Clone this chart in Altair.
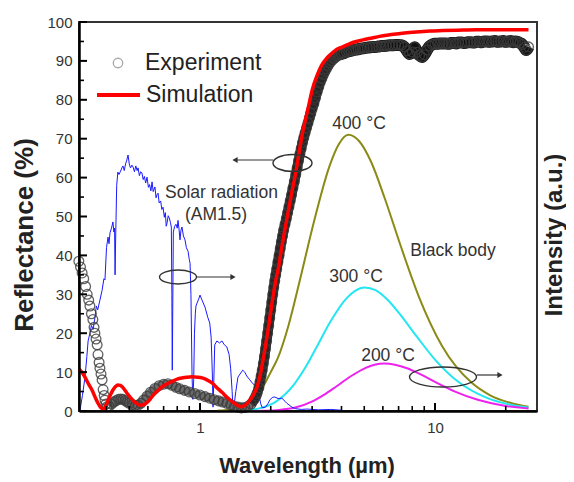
import altair as alt
import pandas as pd

# ---------------- data ----------------
# Experiment (open circles), reflectance in %
exp_uv_wl = [0.305, 0.310, 0.315, 0.320, 0.326, 0.331, 0.336, 0.340, 0.345, 0.350,
             0.354, 0.357, 0.361, 0.365, 0.368, 0.372, 0.375, 0.379, 0.383, 0.387,
             0.391, 0.394, 0.398, 0.402]
exp_uv_r = [38.5, 37, 35.5, 34, 32, 30, 28.5, 27, 25, 23.5,
            21.5, 20, 18.5, 17, 14.5, 12.5, 11, 9.5, 8, 5.5,
            4, 2.8, 1.8, 1.1]

exp_vis_wl = [0.410, 0.420, 0.430, 0.440, 0.450, 0.460, 0.470, 0.480, 0.490, 0.500,
              0.515, 0.530, 0.545, 0.560, 0.575, 0.595, 0.615, 0.643, 0.670, 0.700,
              0.730, 0.760, 0.790, 0.820, 0.860, 0.900, 0.950, 1.00, 1.05, 1.10,
              1.15, 1.20, 1.25, 1.30, 1.35, 1.40, 1.45, 1.50, 1.55, 1.60, 1.65]
exp_vis_r = [1.2, 1.8, 2.3, 2.7, 3.0, 3.1, 3.0, 2.7, 2.3, 2.0,
             1.6, 1.4, 1.5, 2.0, 2.8, 3.8, 4.8, 5.8, 6.5, 6.9,
             7.0, 6.6, 6.1, 5.7, 5.3, 4.9, 4.5, 4.1, 3.7, 3.3,
             2.9, 2.6, 2.3, 2.0, 1.6, 1.2, 1.0, 0.8, 0.9, 1.2, 1.8]

exp_edge_wl = [1.70, 1.73, 1.75, 1.78, 1.80, 1.82, 1.84, 1.86, 1.88, 1.90,
               1.92, 1.94, 1.96, 1.98, 2.00, 2.02, 2.04, 2.06, 2.08, 2.10,
               2.12, 2.145, 2.17, 2.195, 2.22, 2.245, 2.27, 2.30, 2.33, 2.36,
               2.39, 2.42, 2.45, 2.485, 2.52, 2.555, 2.59, 2.625, 2.66, 2.695,
               2.73, 2.765, 2.80, 2.84, 2.88, 2.92, 2.96, 3.00, 3.05, 3.10,
               3.15, 3.20, 3.25, 3.30, 3.35, 3.40, 3.45, 3.51, 3.57, 3.63,
               3.70, 3.77, 3.85, 3.92]
exp_edge_r = [3.0, 3.8, 4.6, 6.0, 7.5, 9.0, 10.5, 12.2, 14, 16,
              18, 20, 22, 24, 26, 28, 30, 31.8, 33.5, 35,
              36.5, 38.3, 40, 41.8, 43.5, 45, 46.5, 48, 49.5, 51,
              52.5, 54, 55.5, 57.3, 59, 60.8, 62.5, 64.3, 66, 67.5,
              69, 70.3, 71.5, 72.8, 74, 75.3, 76.5, 77.7, 79, 80.5,
              82, 83.3, 84.5, 85.5, 86.5, 87.3, 88, 88.8, 89.5, 90,
              90.5, 90.9, 91.3, 91.6]

exp_ir_wl = [4.0, 4.1, 4.2, 4.3, 4.4, 4.5, 4.6, 4.7, 4.8, 4.9,
             5.0, 5.15, 5.3, 5.45, 5.6, 5.75, 5.9, 6.05, 6.2, 6.4,
             6.6, 6.8, 7.0, 7.2, 7.4, 7.6, 7.8, 8.0, 8.2, 8.4,
             8.6, 8.8, 9.0, 9.25, 9.5, 9.75, 10.0, 10.25, 10.5, 10.8,
             11.1, 11.4, 11.7, 12.0, 12.3, 12.6, 13.0, 13.4, 13.8, 14.2,
             14.6, 15.0, 15.4, 15.8, 16.2, 16.6, 17.0, 17.5, 18.0, 18.5,
             19.0, 19.5, 20.0, 20.5, 21.0, 21.5, 22.0, 22.5, 23.0, 23.5,
             24.0, 24.5, 25.0]
exp_ir_r = [91.8, 92.0, 92.3, 92.5, 92.6, 92.8, 92.9, 93.0, 93.1, 93.2,
            93.3, 93.4, 93.5, 93.6, 93.6, 93.7, 93.8, 93.8, 93.9, 94.0,
            94.0, 94.1, 94.1, 94.0, 93.6, 92.6, 91.8, 92.3, 93.5, 92.2,
            91.4, 91.0, 91.6, 92.8, 93.8, 94.2, 94.4, 94.4, 94.5, 94.5,
            94.5, 94.4, 94.6, 94.6, 94.5, 94.7, 94.7, 94.6, 94.8, 94.8,
            94.7, 94.9, 94.9, 94.8, 95.0, 95.0, 94.9, 95.0, 95.1, 94.9,
            95.0, 95.1, 94.9, 95.0, 95.1, 94.8, 95.0, 94.9, 94.6, 94.2,
            93.5, 92.8, 93.6]

# Simulation (red line)
sim_wl = [0.305, 0.309, 0.316, 0.324, 0.335, 0.347, 0.357, 0.368, 0.378, 0.387,
          0.396, 0.406, 0.416, 0.426, 0.437, 0.447, 0.458, 0.470, 0.490, 0.514,
          0.535, 0.556, 0.575, 0.595, 0.613, 0.631, 0.660, 0.689, 0.725, 0.760,
          0.800, 0.838, 0.880, 0.925, 0.970, 1.02, 1.07, 1.125, 1.18, 1.24,
          1.30, 1.37, 1.44, 1.50, 1.55, 1.60, 1.65, 1.70, 1.75, 1.80,
          1.85, 1.90, 1.95, 2.00, 2.05, 2.10, 2.16, 2.22, 2.28, 2.34,
          2.40, 2.47, 2.54, 2.60, 2.66, 2.72, 2.80, 2.90, 3.00, 3.15,
          3.30, 3.45, 3.57, 3.80, 4.00, 4.22, 4.50, 4.94, 5.40, 5.80,
          6.40, 7.00, 7.80, 8.60, 9.50, 10.8, 12.5, 15.0, 20.0, 25.0]
sim_r = [10.8, 10.5, 9.8, 8.7, 7.0, 5.4, 3.7, 2.0, 0.9, 0.5,
         1.2, 2.8, 4.2, 5.4, 6.3, 6.7, 6.6, 6.0, 4.5, 3.0,
         2.0, 1.5, 1.6, 2.2, 3.0, 4.0, 5.2, 6.2, 7.0, 7.6,
         8.2, 8.5, 8.7, 8.8, 8.7, 8.5, 8.0, 7.2, 6.0, 4.8,
         3.6, 2.4, 1.5, 1.1, 1.4, 2.2, 3.2, 4.5, 6.2, 9.0,
         12.8, 16.8, 21.0, 25.5, 29.8, 33.5, 37.0, 41.5, 45.5, 49.3,
         52.8, 56.8, 60.5, 64.0, 67.5, 71.0, 74.5, 78.5, 82.5, 86.3,
         89.0, 90.6, 91.5, 92.9, 93.5, 94.1, 94.8, 95.4, 95.9, 96.3,
         96.7, 97.0, 97.3, 97.5, 97.7, 97.8, 97.9, 98.0, 98.0, 98.0]

# Solar radiation AM1.5 (blue, arbitrary units on the same 0-100 frame)
sun_wl = [0.305, 0.309, 0.316, 0.324, 0.330, 0.334, 0.340, 0.345, 0.351, 0.357,
          0.362, 0.367, 0.375, 0.383, 0.390, 0.394, 0.400, 0.406, 0.410, 0.414,
          0.420, 0.426, 0.430, 0.433, 0.435, 0.438, 0.442, 0.447, 0.452, 0.458,
          0.465, 0.470, 0.476, 0.482, 0.488, 0.494, 0.500, 0.506, 0.513, 0.519,
          0.526, 0.533, 0.540, 0.545, 0.552, 0.559, 0.566, 0.573, 0.580, 0.587,
          0.595, 0.603, 0.610, 0.618, 0.625, 0.632, 0.643, 0.650, 0.656, 0.663,
          0.670, 0.680, 0.688, 0.696, 0.705, 0.712, 0.718, 0.724, 0.732, 0.740,
          0.748, 0.755, 0.759, 0.762, 0.766, 0.770, 0.780, 0.790, 0.800, 0.806,
          0.815, 0.822, 0.830, 0.838, 0.850, 0.863, 0.875, 0.890, 0.900, 0.907,
          0.915, 0.925, 0.932, 0.940, 0.947, 0.955, 0.961, 0.975, 0.990, 1.000,
          1.02, 1.05, 1.08, 1.10, 1.115, 1.128, 1.136, 1.145, 1.155, 1.18,
          1.21, 1.24, 1.27, 1.30, 1.33, 1.35, 1.37, 1.38, 1.40, 1.42,
          1.45, 1.48, 1.52, 1.55, 1.58, 1.63, 1.68, 1.75, 1.78, 1.81,
          1.84, 1.90, 1.95, 1.98, 2.03, 2.08, 2.15, 2.23, 2.30, 2.34,
          2.40, 2.46, 2.55, 2.70, 2.85, 3.20, 3.60, 4.00]
sun_i = [0, 0.5, 4, 8.7, 14, 18, 20, 22, 21, 24,
         27, 26, 28.5, 31, 34, 33.7, 42, 44.7, 43, 45.8,
         47, 48.6, 46, 47, 35, 46, 58, 61.4, 60.8, 61.5,
         62.5, 63, 61.8, 63.5, 64.5, 65.8, 63.5, 62.5, 63.2, 62.7,
         61.5, 63, 61.8, 62.5, 60.5, 61.5, 61.2, 59.5, 60.3, 58.6,
         60.1, 57.5, 58.2, 56.6, 58.9, 56.4, 57.6, 54.8, 55.6, 56,
         53.5, 54, 51.8, 52.4, 49.8, 51, 47.5, 48.3, 50.2, 49.6,
         48.5, 47.3, 30, 10.5, 28, 46, 47.5, 48, 47, 49,
         46.5, 44, 46.5, 47.3, 45, 44, 42, 41, 39, 38,
         30, 9, 3, 8, 20, 25, 27, 28, 29, 29.8,
         28.5, 26.7, 24, 22.6, 19, 10, 1, 8, 17, 18,
         17.5, 18, 17, 16.5, 14.5, 11, 5, 1, 2, 5,
         8.7, 9.5, 10.5, 10, 9, 8, 7, 6.2, 4.5, 2,
         0.8, 1, 2, 2.8, 3.5, 3.6, 3.2, 3.3, 2.5, 2,
         1.5, 1, 0.6, 0.4, 0.5, 0.3, 0.4, 0.2]

# Black body curves (arbitrary units)
bb400_wl = [1.19, 1.34, 1.53, 1.78, 2.00, 2.14, 2.38, 2.67, 3.05, 3.56, 3.89,
            4.28, 4.75, 5.35, 6.11, 7.13, 8.55, 10.7, 14.3, 17.1, 21.4, 25.0]
bb400_i = [0.1, 0.4, 1.4, 4.5, 10, 13.5, 22, 34, 48.5, 63, 68.5,
           71.0, 69.4, 64.0, 54.7, 42.6, 29.3, 16.8, 7.3, 4.1, 1.95, 1.1]
bb300_wl = [1.40, 1.57, 1.79, 2.09, 2.51, 2.79, 3.14, 3.59, 4.19, 4.57,
            5.02, 5.58, 6.28, 7.17, 8.37, 10.04, 12.56, 16.74, 20.09, 25.0]
bb300_i = [0.05, 0.18, 0.67, 2.3, 6.8, 10.9, 16.5, 23.0, 28.9, 30.9,
           31.75, 31.05, 28.6, 24.5, 19.1, 13.1, 7.5, 3.3, 1.84, 0.87]
bb200_wl = [1.69, 1.90, 2.17, 2.54, 3.04, 3.38, 3.80, 4.35, 5.07, 5.53,
            6.08, 6.76, 7.61, 8.69, 10.14, 12.17, 15.21, 20.28, 25.0]
bb200_i = [0.02, 0.07, 0.26, 0.88, 2.6, 4.2, 6.3, 8.8, 11.1, 11.9,
           12.2, 11.9, 11.0, 9.4, 7.3, 5.0, 2.9, 1.25, 0.65]

# Axis ticks
x_major = [1, 10]
x_minor = [0.4, 0.5, 0.6, 0.7, 0.8, 0.9, 2, 3, 4, 5, 6, 7, 8, 9, 20]
y_major = [0, 10, 20, 30, 40, 50, 60, 70, 80, 90, 100]
y_minor = [5, 15, 25, 35, 45, 55, 65, 75, 85, 95]

# ---------------- layout ----------------
W, H = 458, 389
X0, Y0 = 79, 22          # page position of the plot's top-left corner
FONT = "Liberation Sans, Arial, Helvetica, sans-serif"
TXT = "#333333"

xs = alt.Scale(type="log", domain=[0.3055, 27.17], nice=False)
ys = alt.Scale(domain=[0, 100], nice=False, zero=False)

x_axis = alt.Axis(values=x_major, format="~g", title=None, ticks=False, grid=False,
                  labelFont=FONT, labelFontSize=15, labelColor=TXT, labelPadding=9,
                  labelFlush=False, domainColor="black", domainWidth=2.5, zindex=1)
y_axis = alt.Axis(values=y_major, title=None, ticks=False, grid=False,
                  labelFont=FONT, labelFontSize=15, labelColor=TXT, labelPadding=7,
                  labelFlush=False, domainColor="black", domainWidth=2.5, zindex=1)

exp_df = pd.DataFrame({
    "wl": exp_uv_wl + exp_vis_wl + exp_edge_wl + exp_ir_wl,
    "r": exp_uv_r + exp_vis_r + exp_edge_r + exp_ir_r,
})
sim_df = pd.DataFrame({"wl": sim_wl, "r": sim_r})
sun_df = pd.DataFrame({"wl": sun_wl, "r": sun_i})


def xenc(field="wl"):
    return alt.X(f"{field}:Q", scale=xs, axis=x_axis)


def yenc(field="r"):
    return alt.Y(f"{field}:Q", scale=ys, axis=y_axis)


layers = []

# black body curves
for wl, iv, col in [(bb400_wl, bb400_i, "#8a8a16"),
                    (bb300_wl, bb300_i, "#22e6f0"),
                    (bb200_wl, bb200_i, "#ee22ee")]:
    layers.append(
        alt.Chart(pd.DataFrame({"wl": wl, "r": iv}))
        .mark_line(color=col, strokeWidth=2, interpolate="monotone")
        .encode(x=xenc(), y=yenc())
    )

# solar spectrum
layers.append(
    alt.Chart(sun_df).mark_line(color="#1a1aff", strokeWidth=1)
    .encode(x=xenc(), y=yenc())
)

# experiment: dense band underlay + open circles
layers.append(
    alt.Chart(exp_df).transform_filter((alt.datum.wl >= 0.405) & (alt.datum.wl <= 1.7))
    .mark_line(color="#6a6a6a", strokeWidth=8, interpolate="monotone")
    .encode(x=xenc(), y=yenc())
)
layers.append(
    alt.Chart(exp_df).transform_filter((alt.datum.wl >= 1.65) & (alt.datum.wl <= 4.0))
    .mark_line(color="#262626", strokeWidth=10, interpolate="monotone")
    .encode(x=xenc(), y=yenc())
)
layers.append(
    alt.Chart(exp_df).transform_filter(alt.datum.wl >= 3.9)
    .mark_line(color="#111111", strokeWidth=12, interpolate="monotone")
    .encode(x=xenc(), y=yenc())
)
layers.append(
    alt.Chart(exp_df)
    .mark_point(shape="circle", filled=False, size=95, color="#3c3c3c",
                strokeWidth=1.3, opacity=0.8)
    .encode(x=xenc(), y=yenc())
)

# simulation
layers.append(
    alt.Chart(sim_df).mark_line(color="#ff0000", strokeWidth=3.5, interpolate="monotone")
    .encode(x=xenc(), y=yenc())
)

# inward ticks
layers.append(
    alt.Chart(pd.DataFrame({"wl": x_major})).mark_rule(color="black", strokeWidth=2)
    .encode(x=xenc(), y=alt.value(H), y2=alt.value(H - 8))
)
layers.append(
    alt.Chart(pd.DataFrame({"wl": x_minor})).mark_rule(color="black", strokeWidth=1.6)
    .encode(x=xenc(), y=alt.value(H), y2=alt.value(H - 5))
)
layers.append(
    alt.Chart(pd.DataFrame({"r": y_major})).mark_rule(color="black", strokeWidth=2)
    .encode(y=yenc(), x=alt.value(0), x2=alt.value(8))
)
layers.append(
    alt.Chart(pd.DataFrame({"r": y_minor})).mark_rule(color="black", strokeWidth=1.6)
    .encode(y=yenc(), x=alt.value(0), x2=alt.value(5))
)


def text(t, x, y, size=17.5, bold=False, angle=0, align="center", color=TXT,
         baseline="alphabetic"):
    kw = dict(font=FONT, fontSize=size, color=color, align=align, baseline=baseline,
              fontWeight="bold" if bold else "normal")
    if angle:
        kw["angle"] = angle
    return (alt.Chart(pd.DataFrame({"t": [t]})).mark_text(**kw)
            .encode(x=alt.value(x - X0), y=alt.value(y - Y0), text="t:N"))


def ellipse(cx, cy, w, h):
    r = h / w
    k = 0.5523
    p = (f"M-1,0C-1,{-k*r:.4f},{-k:.4f},{-r:.4f},0,{-r:.4f}"
         f"C{k:.4f},{-r:.4f},1,{-k*r:.4f},1,0"
         f"C1,{k*r:.4f},{k:.4f},{r:.4f},0,{r:.4f}"
         f"C{-k:.4f},{r:.4f},-1,{k*r:.4f},-1,0Z")
    return (alt.Chart(pd.DataFrame({"a": [0]}))
            .mark_point(shape=p, size=w * w, filled=False, color="#333333",
                        strokeWidth=1.4, opacity=1)
            .encode(x=alt.value(cx - X0), y=alt.value(cy - Y0)))


def arrow(x1, x2, y, direction):
    line = (alt.Chart(pd.DataFrame({"a": [0]})).mark_rule(color="#333333", strokeWidth=1.2)
            .encode(x=alt.value(x1 - X0), x2=alt.value(x2 - X0), y=alt.value(y - Y0)))
    tip_x = x2 if direction == "right" else x1
    head = (alt.Chart(pd.DataFrame({"a": [0]}))
            .mark_point(shape=f"triangle-{direction}", filled=True, size=36,
                        color="#333333", opacity=1)
            .encode(x=alt.value(tip_x - X0), y=alt.value(y - Y0)))
    return [line, head]


# annotations
layers += [
    ellipse(292.5, 163, 39, 17),
    ellipse(178, 277, 37, 14),
    ellipse(443, 377, 67, 20),
]
layers += arrow(235, 273, 160, "left")
layers += arrow(197, 233, 277, "right")
layers += arrow(477, 500, 375, "right")
layers += [
    text("Solar radiation", 221.5, 198),
    text("(AM1.5)", 216, 220),
    text("400 °C", 359, 129),
    text("300 °C", 356, 282),
    text("200 °C", 388, 361),
    text("Black body", 453, 256),
]

# legend
layers += [
    alt.Chart(pd.DataFrame({"a": [0]}))
    .mark_point(shape="circle", filled=False, size=90, color="#a8a8a8",
                strokeWidth=1.3, opacity=1)
    .encode(x=alt.value(118 - X0), y=alt.value(63 - Y0)),
    text("Experiment", 145, 70, size=23, align="left", color="#222222"),
    alt.Chart(pd.DataFrame({"a": [0]})).mark_rule(color="#ff0000", strokeWidth=4)
    .encode(x=alt.value(97 - X0), x2=alt.value(140 - X0), y=alt.value(95 - Y0)),
    text("Simulation", 146, 101.5, size=23, align="left", color="#222222"),
]

# axis titles
layers += [
    text("Reflectance (%)", 32.5, 235, size=26, bold=True, angle=270, color="#222222"),
    text("Intensity (a.u.)", 562, 235, size=24, bold=True, angle=270, color="#222222"),
    text("Wavelength (µm)", 307, 473, size=22, bold=True, color="#222222"),
]

chart = (
    alt.layer(*layers)
    .properties(
        width=W, height=H,
        padding={"left": X0 - 8, "top": Y0 - 8, "right": 566 - X0 - W, "bottom": 478 - Y0 - H},
        autosize=alt.AutoSizeParams(type="none"),
        background="white",
    )
    .configure_view(stroke="#333333", strokeWidth=2)
)

chart.save("out.html", embed_options={"renderer": "svg", "actions": False})
